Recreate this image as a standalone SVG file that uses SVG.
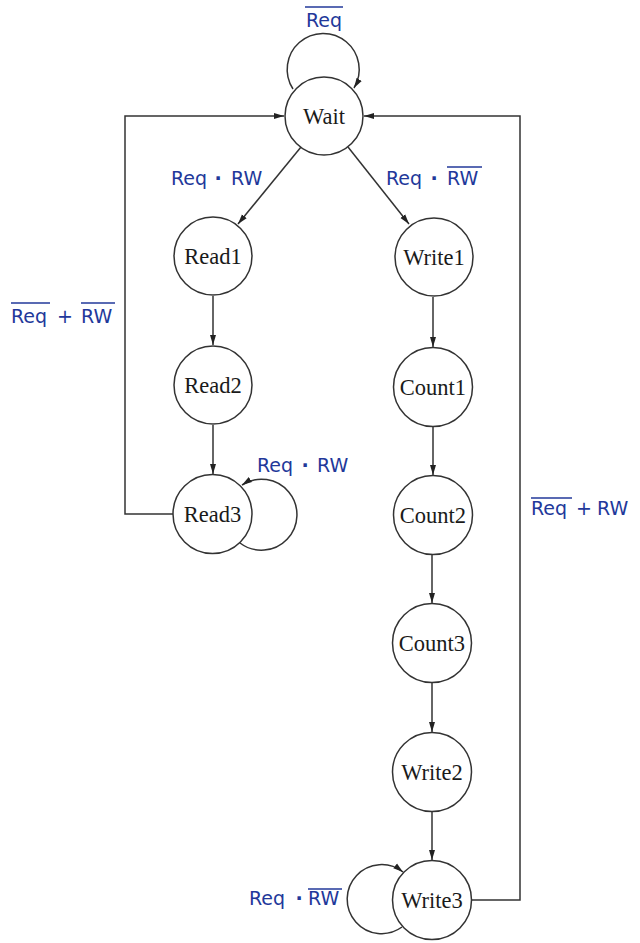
<svg xmlns="http://www.w3.org/2000/svg" width="640" height="943" viewBox="0 0 640 943">
<defs>
<marker id="ah" markerUnits="userSpaceOnUse" markerWidth="10" markerHeight="8" refX="10" refY="4" orient="auto">
<path d="M0,1 L10,4 L0,7 Z" fill="#222"/>
</marker>
<style>
.node circle{fill:#fff;stroke:#333;stroke-width:1.5}
.node text{font-family:"Liberation Serif","Times New Roman",serif;font-size:22.5px;fill:#1a1a1a;text-anchor:middle}
.edge{fill:none;stroke:#333;stroke-width:1.5}
.lbl{font-family:"DejaVu Sans","Noto Sans",sans-serif;font-size:19px;fill:#22389a}
.ov{stroke:#22389a;stroke-width:1.3}
</style>
</defs>
<rect width="640" height="943" fill="#fff"/>
<g id="connectors">
<path class="edge" d="M293,89 A36,36 0 1 1 354,88" marker-end="url(#ah)"/>
<path class="edge" d="M301,147 L238,224" marker-end="url(#ah)"/>
<path class="edge" d="M348,147 L409,224" marker-end="url(#ah)"/>
<path class="edge" d="M213,296 L213,345" marker-end="url(#ah)"/>
<path class="edge" d="M213,425 L213,474" marker-end="url(#ah)"/>
<path class="edge" d="M240,543 A35.5,35.5 0 1 0 242,485" marker-end="url(#ah)"/>
<path class="edge" d="M173,514 H125 V116 H284" marker-end="url(#ah)"/>
<path class="edge" d="M433,297 L433,347" marker-end="url(#ah)"/>
<path class="edge" d="M433,427 L433,475" marker-end="url(#ah)"/>
<path class="edge" d="M432,555 L432,603" marker-end="url(#ah)"/>
<path class="edge" d="M432,683 L432,732" marker-end="url(#ah)"/>
<path class="edge" d="M432,812 L432,860" marker-end="url(#ah)"/>
<path class="edge" d="M402,927 A34.5,34.5 0 1 1 403,872" marker-end="url(#ah)"/>
<path class="edge" d="M472,900 H520 V116 H364" marker-end="url(#ah)"/>
</g>
<g id="labels">
<text class="lbl" x="306" y="27">Req</text>
<line class="ov" x1="305" y1="7" x2="343" y2="7"/>
<text class="lbl" x="171" y="185">Req</text>
<text class="lbl" x="218" y="185" text-anchor="middle" font-weight="bold">·</text>
<text class="lbl" x="231" y="185">RW</text>
<text class="lbl" x="386" y="185">Req</text>
<text class="lbl" x="434" y="185" text-anchor="middle" font-weight="bold">·</text>
<text class="lbl" x="447" y="185">RW</text>
<line class="ov" x1="447" y1="167" x2="482" y2="167"/>
<text class="lbl" x="11" y="323">Req</text>
<text class="lbl" x="65" y="323" text-anchor="middle">+</text>
<text class="lbl" x="81" y="323">RW</text>
<line class="ov" x1="11" y1="303" x2="50" y2="303"/>
<line class="ov" x1="81" y1="303" x2="115" y2="303"/>
<text class="lbl" x="257" y="472">Req</text>
<text class="lbl" x="305" y="472" text-anchor="middle" font-weight="bold">·</text>
<text class="lbl" x="317" y="472">RW</text>
<text class="lbl" x="531" y="515">Req</text>
<text class="lbl" x="584" y="515" text-anchor="middle">+</text>
<text class="lbl" x="597" y="515">RW</text>
<line class="ov" x1="531" y1="498" x2="572" y2="498"/>
<text class="lbl" x="249" y="905">Req</text>
<text class="lbl" x="299" y="905" text-anchor="middle" font-weight="bold">·</text>
<text class="lbl" x="308" y="905">RW</text>
<line class="ov" x1="308" y1="889" x2="342" y2="889"/>
</g>
<g id="Wait" class="node"><circle cx="324" cy="116" r="39"/><text x="324" y="124">Wait</text></g>
<g id="Read1" class="node"><circle cx="213" cy="256" r="39"/><text x="213" y="264">Read1</text></g>
<g id="Read2" class="node"><circle cx="213" cy="385" r="39"/><text x="213" y="393">Read2</text></g>
<g id="Read3" class="node"><circle cx="212.5" cy="514" r="39.5"/><text x="212.5" y="522">Read3</text></g>
<g id="Write1" class="node"><circle cx="434" cy="257" r="39"/><text x="434" y="265">Write1</text></g>
<g id="Count1" class="node"><circle cx="433" cy="387" r="39.5"/><text x="433" y="395">Count1</text></g>
<g id="Count2" class="node"><circle cx="433" cy="515" r="39.5"/><text x="433" y="523">Count2</text></g>
<g id="Count3" class="node"><circle cx="432" cy="643" r="39.5"/><text x="432" y="651">Count3</text></g>
<g id="Write2" class="node"><circle cx="432" cy="772" r="39.5"/><text x="432" y="780">Write2</text></g>
<g id="Write3" class="node"><circle cx="432" cy="900" r="39.5"/><text x="432" y="908">Write3</text></g>
</svg>
